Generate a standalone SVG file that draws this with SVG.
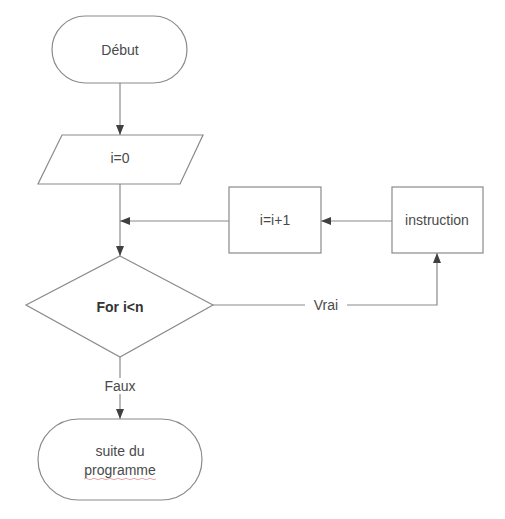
<svg xmlns="http://www.w3.org/2000/svg" width="505" height="519" viewBox="0 0 505 519">
<defs>
<marker id="arr" viewBox="0 0 10 8" refX="10" refY="4" markerWidth="10" markerHeight="8" markerUnits="userSpaceOnUse" orient="auto">
<path d="M0,0 L10,4 L0,8 Z" fill="#404040"/>
</marker>
</defs>
<style>
.shape{fill:#fff;stroke:#8a8a8a;stroke-width:1.2}
.line{fill:none;stroke:#8a8a8a;stroke-width:1.2}
.t{font-family:"Liberation Sans",Arial,sans-serif;font-size:14px;fill:#4a4a4a;text-anchor:middle;dominant-baseline:central}
.b{font-weight:bold;fill:#333}
.sq{fill:none;stroke:#d04040;stroke-width:0.8;opacity:0.6}
</style>
<rect width="505" height="519" fill="#fff"/>
<g id="connectors">
<line class="line" x1="120" y1="83" x2="120" y2="135" marker-end="url(#arr)"/>
<line class="line" x1="120" y1="184" x2="120" y2="256" marker-end="url(#arr)"/>
<line class="line" x1="229" y1="221" x2="120" y2="221" marker-end="url(#arr)"/>
<line class="line" x1="392" y1="221" x2="321" y2="221" marker-end="url(#arr)"/>
<polyline class="line" points="213,305 437,305 437,253" marker-end="url(#arr)"/>
<line class="line" x1="120" y1="357" x2="120" y2="419" marker-end="url(#arr)"/>
<rect x="305" y="297" width="42" height="16" fill="#fff"/>
<text class="t" x="326" y="305">Vrai</text>
<rect x="100" y="378" width="40" height="16" fill="#fff"/>
<text class="t" x="120" y="386">Faux</text>
</g>
<g id="debut">
<rect class="shape" x="52" y="16" width="135" height="67" rx="33.5" ry="33.5"/>
<text class="t" x="120" y="50">Début</text>
</g>
<g id="init">
<polygon class="shape" points="62,135 203,135 180,184 38,184"/>
<text class="t" x="120" y="158">i=0</text>
</g>
<g id="incr">
<rect class="shape" x="229" y="187" width="92" height="66"/>
<text class="t" x="275" y="220">i=i+1</text>
</g>
<g id="instruction">
<rect class="shape" x="392" y="187" width="91" height="66"/>
<text class="t" x="437" y="220">instruction</text>
</g>
<g id="decision">
<polygon class="shape" points="120,256 213,305 120,357 26,305"/>
<text class="t b" x="120" y="307">For i&lt;n</text>
</g>
<g id="suite">
<rect class="shape" x="38" y="419" width="164" height="81" rx="40.5" ry="40.5"/>
<text class="t" x="120" y="451">suite du</text>
<text class="t" x="120" y="470">programme</text>
<path class="sq" d="M84,479 q2,-1.5 4,0 t4,0 t4,0 t4,0 t4,0 t4,0 t4,0 t4,0 t4,0 t4,0 t4,0 t4,0 t4,0 t4,0 t4,0 t4,0 t4,0 t4,0"/>
</g>
</svg>
